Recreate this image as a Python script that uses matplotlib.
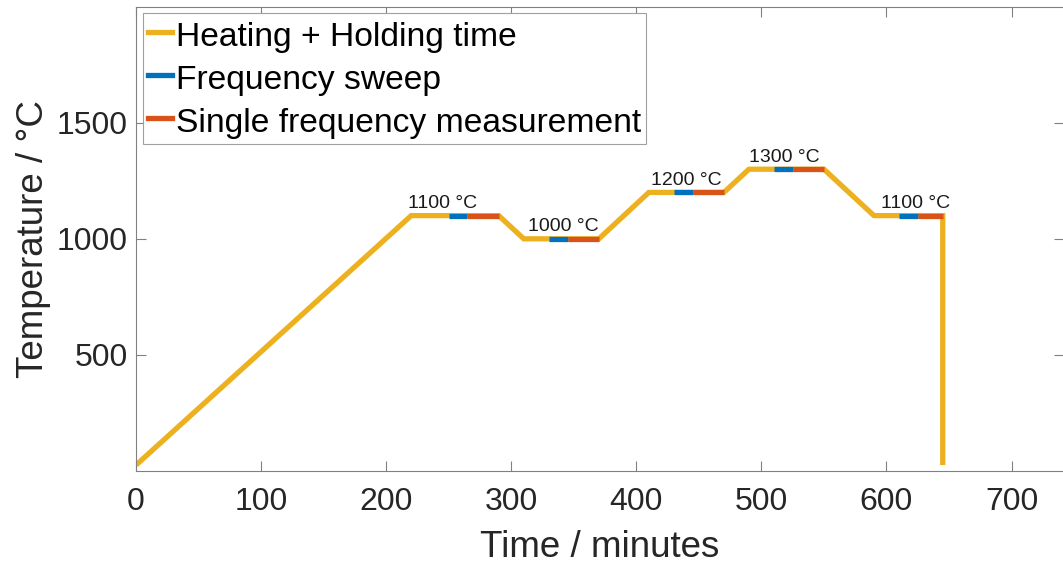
import matplotlib
matplotlib.use("Agg")
import matplotlib.pyplot as plt
from matplotlib.lines import Line2D

plt.rcParams['font.family'] = ['Liberation Sans', 'DejaVu Sans']

# temperature program
time = [0, 220, 290, 310, 370, 410, 470, 490, 550, 590, 645, 645]
temp = [25, 1100, 1100, 1000, 1000, 1200, 1200, 1300, 1300, 1100, 1100, 25]

# measurement blocks on each plateau
plateau_T = [1100, 1000, 1200, 1300, 1100]
sweep_start = [250, 330, 430, 510, 610]
sweep_end = [265, 345, 445, 525, 625]
single_end = [290, 370, 470, 550, 645]
label_x = [245, 342, 440, 518, 623]
labels = ["1100 °C", "1000 °C", "1200 °C", "1300 °C", "1100 °C"]

c_heat = "#EDB120"
c_sweep = "#0072BD"
c_single = "#D95319"
lw = 3.8

fig = plt.figure(figsize=(10.63, 5.70), dpi=100)
ax = fig.add_axes([0.128, 0.174, 0.873, 0.814])

ax.plot(time, temp, color=c_heat, lw=lw, solid_capstyle="butt", solid_joinstyle="miter")
for T, s0, s1, e in zip(plateau_T, sweep_start, sweep_end, single_end):
    ax.plot([s0, s1], [T, T], color=c_sweep, lw=lw, solid_capstyle="butt")
    ax.plot([s1, e], [T, T], color=c_single, lw=lw, solid_capstyle="butt")
for x, T, txt in zip(label_x, plateau_T, labels):
    ax.text(x, T + 16, txt, ha="center", va="bottom", fontsize=14, color="#1a1a1a")

ax.set_xlim(0, 742)
ax.set_ylim(0, 2000)
ax.set_xticks([0, 100, 200, 300, 400, 500, 600, 700])
ax.set_yticks([500, 1000, 1500])
ax.tick_params(direction="in", length=7, width=0.8, color="#808080",
               labelcolor="#262626", labelsize=23, top=True, right=True)
ax.tick_params(axis="x", pad=12)
ax.tick_params(axis="y", pad=6)
for sp in ax.spines.values():
    sp.set_color("#808080")
    sp.set_linewidth(0.8)
ax.spines["right"].set_visible(False)

ax.set_xlabel("Time / minutes", fontsize=26.5, color="#262626", labelpad=9)
ax.set_ylabel("Temperature / °C", fontsize=26.5, color="#262626", labelpad=4)

handles = [Line2D([], [], color=c_heat, lw=lw),
           Line2D([], [], color=c_sweep, lw=lw),
           Line2D([], [], color=c_single, lw=lw)]
leg = ax.legend(handles, ["Heating + Holding time", "Frequency sweep",
                          "Single frequency measurement"],
                loc="upper left", bbox_to_anchor=(0.008, 0.987), fontsize=24.2,
                handlelength=0.7, handleheight=1.2, handletextpad=0.12, borderpad=0.14,
                labelspacing=0.22, borderaxespad=0, fancybox=False, framealpha=1)
leg.get_frame().set_edgecolor("#a0a0a0")
leg.get_frame().set_linewidth(0.8)

fig.savefig("out.png", dpi=100)
